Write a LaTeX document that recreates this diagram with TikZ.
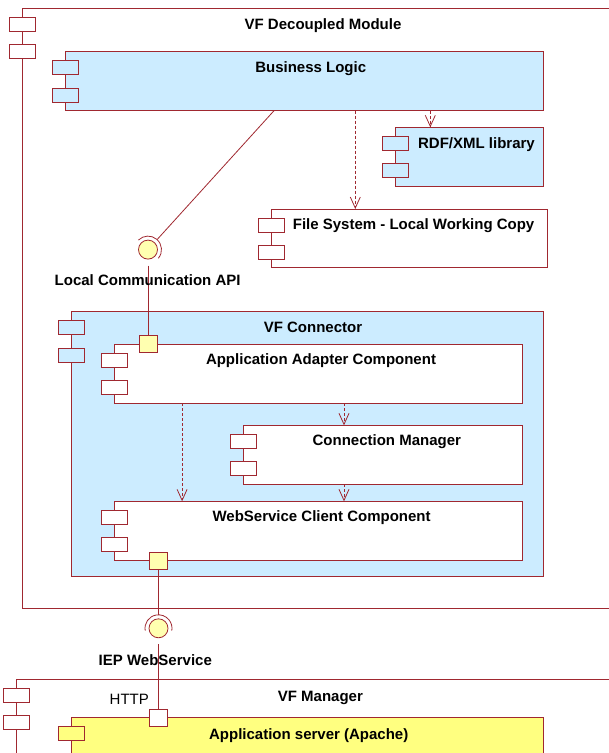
\documentclass[tikz,border=0pt]{standalone}
\usepackage{fontspec}
\setmainfont{Liberation Sans}
\usetikzlibrary{arrows.meta,calc}
\definecolor{lc}{RGB}{160,40,48}
\definecolor{lblue}{RGB}{204,236,255}
\definecolor{lyel}{RGB}{255,255,176}
\definecolor{ayel}{RGB}{255,255,128}
\newcommand{\comptabs}[2]{%
  \draw[tab,fill=#2] ([shift={(-13,9)}]#1.north west) rectangle ++(26,14);
  \draw[tab,fill=#2] ([shift={(-13,36.4)}]#1.north west) rectangle ++(26,14);}
\begin{document}
\begin{tikzpicture}[x=1pt,y=-1pt,
  box/.style={draw=lc,line width=1pt,outer sep=0pt,inner sep=0pt,anchor=north west},
  tab/.style={draw=lc,line width=1pt},
  ttl/.style={font=\bfseries\fontsize{15}{18}\selectfont,anchor=base,inner sep=0pt},
  plain/.style={font=\fontsize{15}{18}\selectfont,anchor=base,inner sep=0pt},
  ball/.style={circle,draw=lc,fill=lyel,line width=0.8pt,minimum size=19pt,inner sep=0pt},
  port/.style={draw=lc,line width=1pt,minimum width=18pt,minimum height=17pt,inner sep=0pt,outer sep=0pt},
  conn/.style={draw=lc,line width=0.8pt},
  dep/.style={draw=lc,line width=0.8pt,dash pattern=on 3pt off 2pt,-{Straight Barb[length=11pt,width=10pt]}}]
\useasboundingbox (0,0) rectangle (609,753);
\clip (0,0) rectangle (609,753);
\fill[white] (0,0) rectangle (609,753);

% outer module
\node[box,fill=white,minimum width=597.5pt,minimum height=600pt] (outer) at (22.5,8.3) {};
\comptabs{outer}{white}
\node[ttl] (tOuter) at (323,29) {VF Decoupled Module};

% Business Logic
\node[box,fill=lblue,minimum width=478.7pt,minimum height=59pt] (bl) at (65,51.7) {};
\comptabs{bl}{lblue}
\node[ttl] (tBl) at (310.7,72.3) {Business Logic};

% RDF
\node[box,fill=lblue,minimum width=148.4pt,minimum height=59pt] (rdf) at (395.3,127.3) {};
\comptabs{rdf}{lblue}
\node[ttl] (tRdf) at (476.5,148) {RDF/XML library};

% File system
\node[box,fill=white,minimum width=276.6pt,minimum height=58.3pt] (fs) at (271,209) {};
\comptabs{fs}{white}
\node[ttl] (tFs) at (413.6,229.3) {File System - Local Working Copy};

% dependencies from BL
\path (355.3,0) coordinate (xa) (430.3,0) coordinate (xb) (182.1,0) coordinate (xc) (344,0) coordinate (xd);
\draw[dep] (bl.south -| xa) -- (fs.north -| xa);
\draw[dep] (bl.south -| xb) -- (rdf.north -| xb);

% Local Communication API interface
\node[ball] (ball1) at (148,249.6) {};
\draw[conn] (ball1.center) ++(40:13.5) arc[start angle=40,end angle=-135,radius=13.5];
\coordinate (blA) at (274,110.7);
\draw[conn] (blA) -- ($(ball1.center)!13.5pt!(blA)$);

% VF Connector
\node[box,fill=lblue,minimum width=472.2pt,minimum height=264.3pt] (vfc) at (71.5,311.7) {};
\comptabs{vfc}{lblue}
\node[ttl] (tVfc) at (313,332) {VF Connector};

\node[box,fill=white,minimum width=407.7pt,minimum height=58.7pt] (aac) at (114.6,344.3) {};
\comptabs{aac}{white}
\node[ttl] (tAac) at (321,364.7) {Application Adapter Component};

\node[box,fill=white,minimum width=278.4pt,minimum height=58.7pt] (cm) at (243.9,425.3) {};
\comptabs{cm}{white}
\node[ttl] (tCm) at (386.8,445.7) {Connection Manager};

\node[box,fill=white,minimum width=407.7pt,minimum height=58.7pt] (wsc) at (114.6,501.3) {};
\comptabs{wsc}{white}
\node[ttl] (tWsc) at (321.6,521.3) {WebService Client Component};

\draw[dep] (aac.south -| xc) -- (wsc.north -| xc);
\draw[dep] (aac.south -| xd) -- (cm.north -| xd);
\draw[dep] (cm.south -| xd) -- (wsc.north -| xd);

\draw[conn] ([yshift=-6pt]ball1.south) -- (148,335.3);
\node[port,fill=lyel] (p1) at (148,343.8) {};
\node[ttl] (tLca) at (147.6,285) {Local Communication API};

\node[port,fill=lyel] (p2) at (158.5,560.5) {};

% IEP WebService interface
\node[ball] (ball2) at (158.5,628.3) {};
\draw[conn] (ball2.center) ++(-190:13.5) arc[start angle=-190,end angle=10,radius=13.5];
\draw[conn] (p2.south) -- ($(ball2.center)!13.5pt!(p2)$);

% VF Manager
\node[box,fill=white,minimum width=603.3pt,minimum height=90pt] (vfm) at (16.7,679.3) {};
\comptabs{vfm}{white}
\node[ttl] (tVfm) at (320.4,701) {VF Manager};
\node[plain] (tHttp) at (129.3,704) {HTTP};

\node[box,fill=ayel,minimum width=472.2pt,minimum height=50pt] (app) at (71.5,717.3) {};
\comptabs{app}{ayel}
\node[ttl] (tApp) at (308.7,739.3) {Application server (Apache)};

\node[port,fill=white] (http) at (158.5,717.6) {};
\draw[conn] ([yshift=-6pt]ball2.south) -- (http.north);
\node[ttl] (tIep) at (155.3,665) {IEP WebService};
\end{tikzpicture}
\end{document}
